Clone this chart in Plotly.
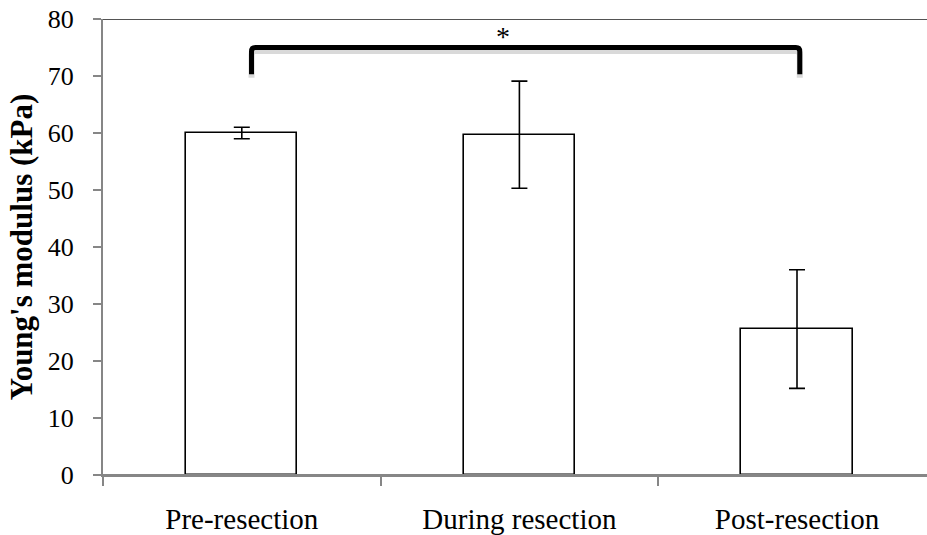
import plotly.graph_objects as go

# Young's modulus by resection stage (mean ± SD, kPa)
stages = ["Pre-resection", "During resection", "Post-resection"]
modulus = [60.0, 59.7, 25.6]
modulus_sd = [1.0, 9.4, 10.4]

# significance bracket between the first and last stage
sig_pair = (0, 2)
sig_height = 75.0
sig_drop = 4.7
sig_label = "*"

y_ticks = [0, 10, 20, 30, 40, 50, 60, 70, 80]

FONT = "Liberation Serif"
AXIS_GREY = "#868686"

fig = go.Figure()
fig.add_trace(go.Bar(
    x=stages,
    y=modulus,
    width=0.4,
    marker=dict(color="white", line=dict(color="black", width=1.6)),
    error_y=dict(type="data", array=modulus_sd, visible=True,
                 color="black", thickness=1.6, width=8),
    showlegend=False,
))

# bracket with rounded corners
x0 = sig_pair[0] + 0.035
x1 = sig_pair[1] + 0.01
yb = sig_height - sig_drop
rx, ry = 0.014, 0.7


def bracket_path(dy=0.0):
    return (f"M {x0},{yb + dy} L {x0},{sig_height - ry + dy} "
            f"Q {x0},{sig_height + dy} {x0 + rx},{sig_height + dy} "
            f"L {x1 - rx},{sig_height + dy} "
            f"Q {x1},{sig_height + dy} {x1},{sig_height - ry + dy} "
            f"L {x1},{yb + dy}")


fig.add_shape(type="path", path=bracket_path(-0.6), xref="x", yref="y",
              line=dict(color="rgba(0,0,0,0.15)", width=6))
fig.add_shape(type="path", path=bracket_path(), xref="x", yref="y",
              line=dict(color="black", width=5))
fig.add_annotation(x=(sig_pair[0] + sig_pair[1]) / 2 - 0.06, y=sig_height + 2.0,
                   text=sig_label, showarrow=False, yanchor="middle",
                   font=dict(family=FONT, size=28, color="black"))

# top frame line
fig.add_shape(type="line", xref="paper", yref="y", x0=0, x1=1, y0=80, y1=80,
              line=dict(color="#1a1a1a", width=1.3))
# grey baseline drawn over the bar bottoms
fig.add_shape(type="line", xref="paper", yref="y", x0=0, x1=1, y0=0, y1=0,
              line=dict(color=AXIS_GREY, width=2.2))

fig.update_layout(
    width=927, height=535,
    margin=dict(l=103, r=0, t=19, b=58),
    paper_bgcolor="white", plot_bgcolor="white",
    font=dict(family=FONT, size=26, color="black"),
    bargap=0,
)
fig.update_xaxes(
    type="category",
    range=[-0.5, -0.5 + 824 / 277.6],
    tickson="boundaries",
    ticks="outside", ticklen=9, tickwidth=1.5, tickcolor=AXIS_GREY,
    showline=True, linecolor=AXIS_GREY, linewidth=2, layer="above traces",
    showgrid=False, zeroline=False,
    ticklabelstandoff=17,
    tickfont=dict(family=FONT, size=29, color="black"),
)
fig.update_yaxes(
    range=[0, 80],
    tickvals=y_ticks,
    ticks="outside", ticklen=8, tickwidth=1.5, tickcolor=AXIS_GREY,
    showline=True, linecolor=AXIS_GREY, linewidth=2, layer="above traces",
    showgrid=False, zeroline=False,
    ticklabelstandoff=14,
    tickfont=dict(family=FONT, size=26, color="black"),
    title=dict(text="<b>Young's modulus (kPa)</b>", standoff=6,
               font=dict(family=FONT, size=31, color="black")),
)

fig.write_html("out.html")
